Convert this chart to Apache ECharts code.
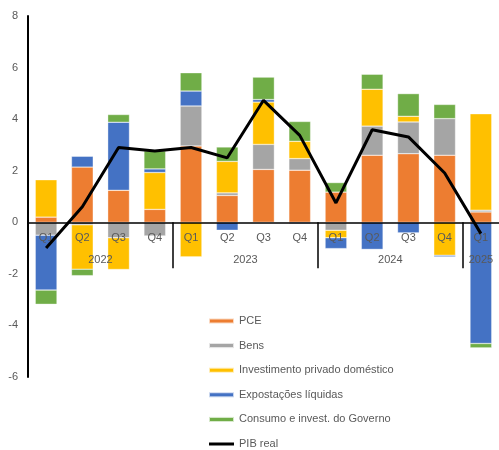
<!DOCTYPE html>
<html>
<head>
<meta charset="utf-8">
<script src="https://cdn.jsdelivr.net/npm/echarts@6/dist/echarts.min.js"></script>
<style>
  html, body { margin: 0; padding: 0; background: #fff; }
  #chart { width: 499px; height: 450px; }
</style>
</head>
<body>
<div id="chart"></div>
<script>
// Contribuições para o crescimento do PIB real (p.p.), trimestral
const quarters = ['Q1', 'Q2', 'Q3', 'Q4', 'Q1', 'Q2', 'Q3', 'Q4', 'Q1', 'Q2', 'Q3', 'Q4', 'Q1'];
const yearLabels = ['2022', '2023', '2024', '2025'];
const yearLabelPos = [2, 6, 10, 12.5];   // centre of each year group (in category units)
const yearBreaks = [4, 8, 12];           // boundaries between years

const pce          = [0.20, 2.14, 1.24, 0.50, 2.96, 1.04, 2.05, 2.02, 1.17, 2.60, 2.66, 2.60, 0.40];
const bens         = [-0.50, -0.10, -0.60, -0.53, 1.55, 0.10, 0.97, 0.45, -0.31, 1.13, 1.23, 1.42, 0.07];
const investimento = [1.45, -1.72, -1.23, 1.43, -1.34, 1.22, 1.64, 0.67, -0.29, 1.43, 0.22, -1.28, 3.74];
const exportacoes  = [-2.13, 0.42, 2.64, 0.14, 0.58, -0.31, 0.10, -0.05, -0.42, -1.05, -0.41, -0.06, -4.70];
const governo      = [-0.55, -0.25, 0.30, 0.70, 0.71, 0.56, 0.87, 0.77, 0.37, 0.58, 0.88, 0.55, -0.17];
const pib          = [-1.00, 0.60, 2.90, 2.76, 2.90, 2.50, 4.73, 3.37, 0.75, 3.59, 3.31, 1.91, -0.44];

const yMin = -6, yMax = 8, yStep = 2;

const textColor = '#595959';
const font = 'Liberation Sans, Arial, sans-serif';

// plot area geometry
const plotLeft = 28, plotTop = 16, plotWidth = 473, plotHeight = 361;
// the label grid ends at the zero line, so its bottom axis carries the quarter/year labels
const zeroOffset = plotHeight * yMax / (yMax - yMin);

function barSeries(name, data, color) {
  return {
    name: name,
    type: 'bar',
    stack: 'contrib',
    data: data,
    xAxisIndex: 0,
    yAxisIndex: 0,
    barCategoryGap: '40%',
    itemStyle: { color: color, borderColor: 'rgba(255,255,255,0.7)', borderWidth: 0.5 },
    emphasis: { disabled: true }
  };
}

const chart = echarts.init(document.getElementById('chart'), null, { renderer: 'canvas' });
chart.setOption({
  animation: false,
  backgroundColor: '#fff',
  textStyle: { fontFamily: font },
  grid: [
    { left: plotLeft, top: plotTop, width: plotWidth, height: plotHeight },
    { left: plotLeft, top: plotTop, width: plotWidth, height: zeroOffset }
  ],
  legend: {
    orient: 'vertical',
    left: 208,
    top: 314,
    height: 160,
    padding: 0,
    itemWidth: 25,
    itemHeight: 5,
    itemGap: 10.6,
    textStyle: { color: textColor, fontSize: 11, fontFamily: font, lineHeight: 14 },
    data: [
      { name: 'PCE', icon: 'rect' },
      { name: 'Bens', icon: 'rect' },
      { name: 'Investimento privado doméstico', icon: 'rect' },
      { name: 'Expostações líquidas', icon: 'rect' },
      { name: 'Consumo e invest. do Governo', icon: 'rect' },
      { name: 'PIB real', icon: 'path://M0,0H25V3H0Z' }
    ]
  },
  xAxis: [
    {
      // zero line across the bars
      type: 'category',
      gridIndex: 0,
      data: quarters,
      z: 10,
      axisLine: { onZero: true, lineStyle: { color: '#000', width: 1.5 } },
      axisTick: { show: false },
      axisLabel: { show: false },
      splitLine: { show: false }
    },
    {
      // quarter labels just under the zero line
      type: 'category',
      gridIndex: 1,
      data: quarters,
      z: 10,
      position: 'bottom',
      axisLine: { show: false },
      axisTick: { show: false },
      axisLabel: { color: textColor, fontSize: 11, fontFamily: font, margin: 10, interval: 0 },
      splitLine: { show: false }
    },
    {
      // year labels and year separators
      type: 'value',
      gridIndex: 1,
      min: 0,
      max: 13,
      z: 10,
      position: 'bottom',
      axisLine: { show: false },
      axisTick: {
        show: true,
        customValues: yearBreaks,
        length: 46,
        lineStyle: { color: '#000', width: 1.5 }
      },
      axisLabel: {
        customValues: yearLabelPos,
        color: textColor,
        fontSize: 11,
        fontFamily: font,
        margin: 32,
        formatter: function (v) {
          const i = yearLabelPos.indexOf(v);
          return i >= 0 ? yearLabels[i] : '';
        }
      },
      splitLine: { show: false }
    }
  ],
  yAxis: [
    {
      type: 'value',
      gridIndex: 0,
      min: yMin,
      max: yMax,
      interval: yStep,
      axisLine: { show: true, onZero: false, lineStyle: { color: '#000', width: 2 } },
      axisTick: { show: false },
      axisLabel: { color: textColor, fontSize: 11, fontFamily: font, margin: 10 },
      splitLine: { show: false }
    },
    {
      type: 'value',
      gridIndex: 1,
      min: 0,
      max: 1,
      show: false
    }
  ],
  series: [
    barSeries('PCE', pce, '#ED7D31'),
    barSeries('Bens', bens, '#A5A5A5'),
    barSeries('Investimento privado doméstico', investimento, '#FFC000'),
    barSeries('Expostações líquidas', exportacoes, '#4472C4'),
    barSeries('Consumo e invest. do Governo', governo, '#70AD47'),
    {
      name: 'PIB real',
      type: 'line',
      data: pib,
      xAxisIndex: 0,
      yAxisIndex: 0,
      z: 20,
      symbol: 'none',
      lineStyle: { color: '#000', width: 3 },
      itemStyle: { color: '#000' },
      emphasis: { disabled: true }
    }
  ]
});
</script>
</body>
</html>
